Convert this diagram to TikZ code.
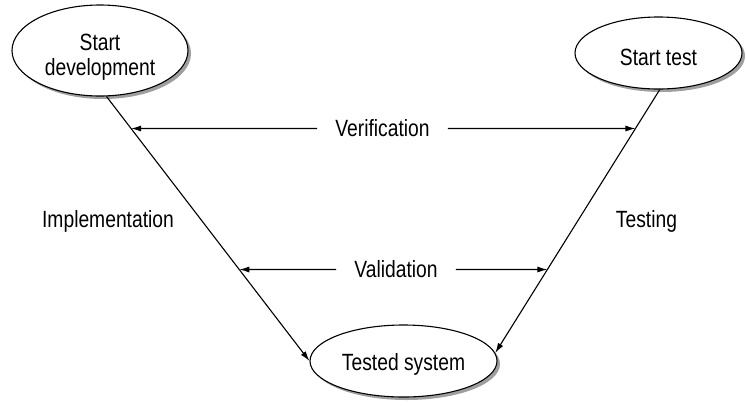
\documentclass[tikz,border=0pt]{standalone}
\usepackage{fontspec}
\setmainfont{Liberation Sans}[FakeStretch=0.82]
\usetikzlibrary{arrows.meta,shapes.geometric,shadows}
\begin{document}
\begin{tikzpicture}[x=1pt,y=-1pt,
  every node/.style={font=\fontsize{23.5}{25}\selectfont},
  ell/.style={ellipse, draw, line width=1.1pt, fill=white, inner sep=0pt, align=center,
    drop shadow={shadow xshift=3pt,shadow yshift=-3pt,fill=gray!75,opacity=1}},
  conn/.style={line width=1.1pt, -{Latex[length=10pt,width=6pt]}},
  lbl/.style={inner xsep=18pt, inner ysep=0pt}]
\useasboundingbox (0,0) rectangle (746,405);
\node[ell, minimum width=176pt, minimum height=91pt, text height=53.9pt, text depth=4.9pt] (e1) at (100,50.5) {Start\\development};
\node[ell, minimum width=167pt, minimum height=72pt, text height=24pt, text depth=0pt] (e2) at (658.5,53) {Start test};
\node[ell, minimum width=187pt, minimum height=72pt, text height=22.9pt, text depth=4.9pt] (e3) at (403.5,361) {Tested system};
\node[lbl] (ver) at (382.5,128.5) {Verification};
\node[lbl] (val) at (396,269.5) {Validation};
\node[anchor=base] (impl) at (108,227) {Implementation};
\node[anchor=base] (tst) at (646.5,227) {Testing};
\draw[conn] (e1.-82) -- (e3.west);
\draw[conn] (e2.-88) -- (e3.5);
\coordinate (vl) at (intersection of ver.west--ver.east and e1.-82--e3.west);
\coordinate (vr) at (intersection of ver.west--ver.east and e2.-88--e3.5);
\coordinate (al) at (intersection of val.west--val.east and e1.-82--e3.west);
\coordinate (ar) at (intersection of val.west--val.east and e2.-88--e3.5);
\draw[conn] (ver.west) -- (vl);
\draw[conn] (ver.east) -- (vr);
\draw[conn] (val.west) -- (al);
\draw[conn] (val.east) -- (ar);
\end{tikzpicture}
\end{document}
